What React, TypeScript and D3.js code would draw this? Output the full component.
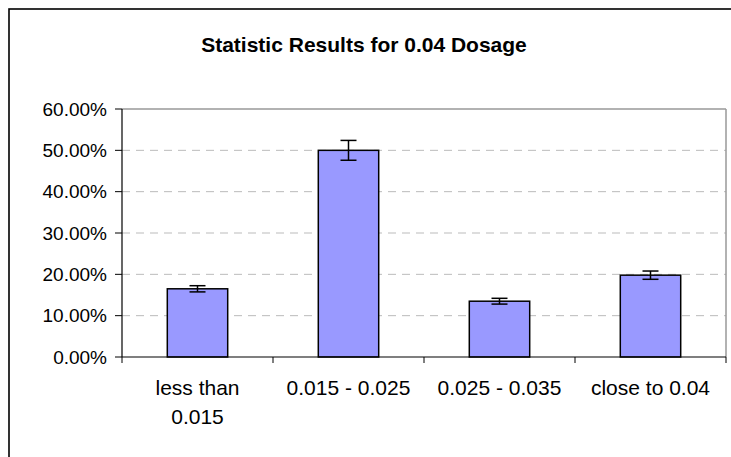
import React from "react";
import * as d3 from "d3";

const categories: string[][] = [["less than", "0.015"], ["0.015 - 0.025"], ["0.025 - 0.035"], ["close to 0.04"]];
const values: number[] = [0.165, 0.50, 0.135, 0.198];
const errors: number[] = [0.0075, 0.024, 0.007, 0.01];
const yTicks: number[] = [0, 0.1, 0.2, 0.3, 0.4, 0.5, 0.6];
const title = "Statistic Results for 0.04 Dosage";

export default function App() {
  const W = 731, H = 457;
  const left = 122, right = 726, top = 109, bottom = 357;
  const x = d3.scaleBand<number>().domain(categories.map((_, i) => i)).range([left, right]).paddingInner(0.6).paddingOuter(0.3);
  const xb = d3.scaleBand<number>().domain(categories.map((_, i) => i)).range([left, right]);
  const y = d3.scaleLinear().domain([0, 0.6]).range([bottom, top]);
  const fmt = d3.format(".2%");
  const font = "'Liberation Sans', Arial, sans-serif";
  const cap = 8;
  return (
    <div>
      <style>{`body{margin:0}`}</style>
      <svg width={W} height={H} style={{ display: "block", fontFamily: font }}>
        <rect x={0} y={0} width={W} height={H} fill="#fff" />
        <rect x={9} y={9} width={W + 10} height={H + 10} fill="#fff" stroke="#000" strokeWidth={1.6} />
        <text x={364} y={52} textAnchor="middle" fontSize={21} fontWeight="bold" fill="#000">{title}</text>
        {/* gridlines */}
        {yTicks.filter(t => t > 0 && t < 0.6).map(t => (
          <line key={t} x1={left} x2={right} y1={y(t)} y2={y(t)} stroke="#bbb" strokeDasharray="8,6" />
        ))}
        {/* plot border top/right */}
        <line x1={left} x2={right} y1={top} y2={top} stroke="#999" strokeWidth={1.5} />
        <line x1={right} x2={right} y1={top} y2={bottom} stroke="#999" strokeWidth={1.5} />
        {/* bars */}
        {values.map((v, i) => (
          <rect key={i} x={x(i)!} y={y(v)} width={x.bandwidth()} height={bottom - y(v)} fill="#9999FF" stroke="#000" strokeWidth={1.5} />
        ))}
        {/* error bars */}
        {values.map((v, i) => {
          const cx = x(i)! + x.bandwidth() / 2;
          return (
            <g key={i} stroke="#000" strokeWidth={1.5}>
              <line x1={cx} x2={cx} y1={y(v + errors[i])} y2={y(v - errors[i])} />
              <line x1={cx - cap} x2={cx + cap} y1={y(v + errors[i])} y2={y(v + errors[i])} />
              <line x1={cx - cap} x2={cx + cap} y1={y(v - errors[i])} y2={y(v - errors[i])} />
            </g>
          );
        })}
        {/* axes */}
        <line x1={left} x2={left} y1={top} y2={bottom} stroke="#000" strokeWidth={1.2} />
        <line x1={left} x2={right} y1={bottom} y2={bottom} stroke="#000" strokeWidth={1.2} />
        {yTicks.map(t => (
          <g key={t}>
            <line x1={left - 7} x2={left} y1={y(t)} y2={y(t)} stroke="#000" />
            <text x={107} y={y(t)} dy="0.35em" textAnchor="end" fontSize={19} fill="#000">{fmt(t)}</text>
          </g>
        ))}
        {[...xb.domain().map(d => xb(d)!), right].map((px, i) => (
          <line key={i} x1={px} x2={px} y1={bottom} y2={bottom + 6} stroke="#000" />
        ))}
        {categories.map((lines, i) => (
          <text key={i} x={xb(i)! + xb.bandwidth() / 2} y={395} textAnchor="middle" fontSize={21} fill="#000">
            {lines.map((l, j) => (
              <tspan key={j} x={xb(i)! + xb.bandwidth() / 2} dy={j === 0 ? 0 : 29}>{l}</tspan>
            ))}
          </text>
        ))}
      </svg>
    </div>
  );
}
